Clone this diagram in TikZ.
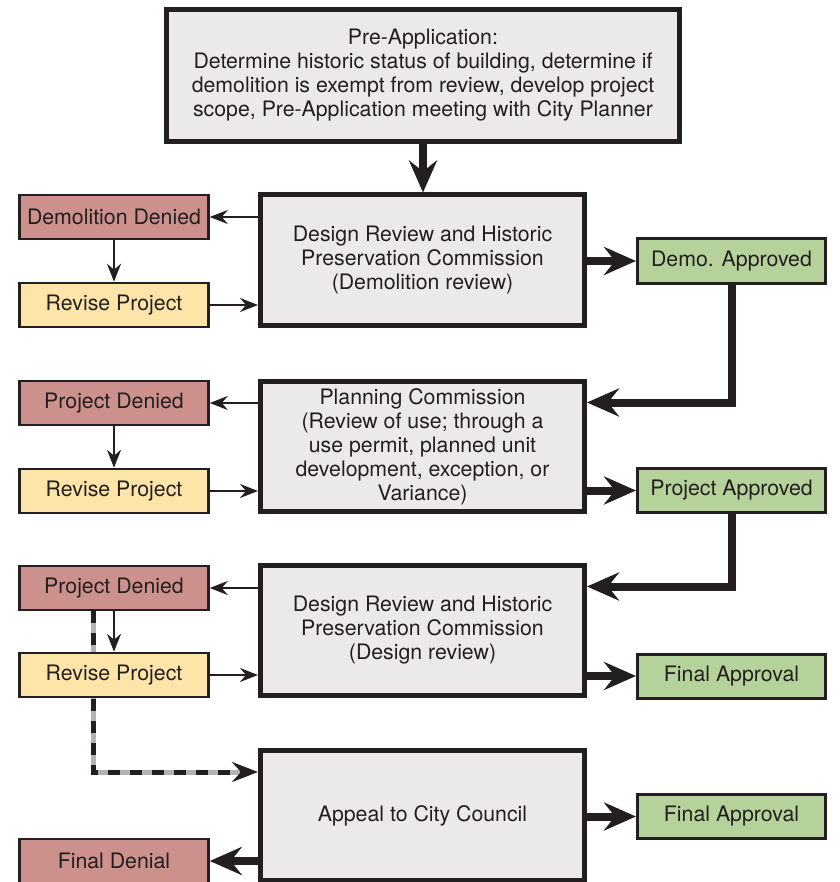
\documentclass[tikz,border=0pt]{standalone}
\usepackage{fontspec}
\setmainfont{TeX Gyre Heros}
\usetikzlibrary{arrows.meta,backgrounds}
\definecolor{ink}{HTML}{231F20}
\definecolor{boxgray}{HTML}{EBE9EA}
\definecolor{deniedred}{HTML}{CC918C}
\definecolor{reviseyellow}{HTML}{FDE4A8}
\definecolor{approvedgreen}{HTML}{B5D29B}
\definecolor{dashgray}{HTML}{B3B3B3}
\begin{document}
\begin{tikzpicture}[x=1pt, y=-1pt, font=\fontsize{21.3}{24}\selectfont, text=ink,
    stage/.style={draw=ink, line width=5pt, fill=boxgray, align=center, inner sep=0pt,
      minimum width=324pt, minimum height=130pt},
    outcome/.style={draw=ink, line width=2.5pt, inner sep=0pt,
      minimum width=189pt, minimum height=44pt},
    denied/.style={outcome, fill=deniedred},
    revise/.style={outcome, fill=reviseyellow},
    approved/.style={outcome, line width=3pt, fill=approvedgreen, minimum width=188pt},
    minorarrow/.style={ink, line width=2pt, -{Stealth[length=18pt, width=14pt, inset=6pt]}},
    majorarrow/.style={ink, line width=8pt, -{Stealth[length=32pt, width=28pt, inset=11pt]}}]
    \useasboundingbox (0,0) rectangle (839,882);

    % Pre-Application and review stages
    \node[stage, minimum width=513pt, minimum height=132pt] (pre) at (423,75.5)
      {Pre-Application:\\Determine historic status of building, determine if\\demolition is exempt from review, develop project\\scope, Pre-Application meeting with City Planner};
    \node[stage] (drc1) at (422.5,260) {Design Review and Historic\\Preservation Commission\\(Demolition review)};
    \node[stage] (pc) at (422.5,446.5) {Planning Commission\\(Review of use; through a\\use permit, planned unit\\development, exception, or\\Variance)};
    \node[stage] (drc2) at (422.5,630.5) {Design Review and Historic\\Preservation Commission\\(Design review)};
    \node[stage] (council) at (422.5,815.5) {Appeal to City Council};

    % Outcomes
    \foreach \n/\y/\t in {dd1/217/Demolition Denied, pd2/403/Project Denied, pd3/588/Project Denied, fd/861/Final Denial}
      \node[denied] (\n) at (114,\y) {\t};
    \foreach \n/\y in {rv1/305, rv2/491, rv3/675}
      \node[revise] (\n) at (114,\y) {Revise Project};
    \foreach \n/\y/\t in {ok1/261/Demo. Approved, ok2/490.5/Project Approved, ok3/676/Final Approval, ok4/816.5/Final Approval}
      \node[approved] (\n) at (731.5,\y) {\t};

    % Main flow
    \draw[majorarrow] (pre.south) -- (pre.south |- drc1.north);
    \draw[majorarrow] (drc1.east |- ok1) -- (ok1.west);
    \draw[majorarrow] (ok1.south) |- ([yshift=44pt]pc.east);
    \draw[majorarrow] (pc.east |- ok2) -- (ok2.west);
    \draw[majorarrow] (ok2.south) |- ([yshift=44pt]drc2.east);
    \draw[majorarrow] (drc2.east |- ok3) -- (ok3.west);
    \draw[majorarrow] (council.east |- ok4) -- (ok4.west);
    \draw[majorarrow] (council.west |- fd) -- (fd.east);

    % Denial and revision loops
    \draw[minorarrow] (drc1.west |- dd1) -- (dd1.east);
    \draw[minorarrow] (dd1) -- (rv1);
    \draw[minorarrow] (rv1.east) -- (rv1.east -| drc1.west);
    \draw[minorarrow] (pc.west |- pd2) -- (pd2.east);
    \draw[minorarrow] (pd2) -- (rv2);
    \draw[minorarrow] (rv2.east) -- (rv2.east -| pc.west);
    \draw[minorarrow] (drc2.west |- pd3) -- (pd3.east);
    \draw[minorarrow] (pd3) -- (rv3);
    \draw[minorarrow] (rv3.east) -- (rv3.east -| drc2.west);

    % Appeal path
    \coordinate (turn) at (93,772);
    \begin{scope}[on background layer]
      \draw[dashgray, line width=5pt, shorten >=18pt] (pd3.south -| turn) -- (turn) -- (turn -| council.west);
      \draw[ink, line width=5pt, dash pattern=on 12pt off 10pt, -{Stealth[length=26pt, width=20pt, inset=9pt]}]
        (pd3.south -| turn) -- (turn) -- (turn -| council.west);
    \end{scope}
\end{tikzpicture}
\end{document}
